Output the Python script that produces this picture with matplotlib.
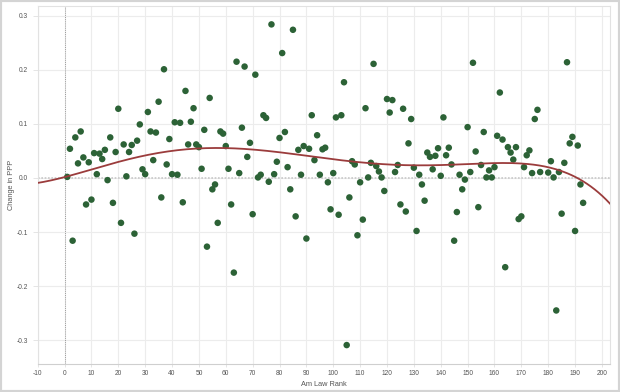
import numpy as np
import matplotlib
matplotlib.use("Agg")
import matplotlib.pyplot as plt
from matplotlib.patches import Rectangle

plt.rcParams['axes.unicode_minus'] = False
plt.rcParams['font.family'] = ['Liberation Sans', 'DejaVu Sans']

ranks = [1, 2, 3, 4, 5, 6, 7, 8, 9, 10, 11, 12, 13, 14, 15, 16, 17, 18, 19, 20,
         21, 22, 23, 24, 25, 26, 27, 28, 29, 30, 31, 32, 33, 34, 35, 36, 37, 38, 39, 40,
         41, 42, 43, 44, 45, 46, 47, 48, 49, 50, 51, 52, 53, 54, 55, 56, 57, 58, 59, 60,
         61, 62, 63, 64, 65, 66, 67, 68, 69, 70, 71, 72, 73, 74, 75, 76, 77, 78, 79, 80,
         81, 82, 83, 84, 85, 86, 87, 88, 89, 90, 91, 92, 93, 94, 95, 96, 97, 98, 99, 100,
         101, 102, 103, 104, 105, 106, 107, 108, 109, 110, 111, 112, 113, 114, 115, 116, 117, 118, 119, 120,
         121, 122, 123, 124, 125, 126, 127, 128, 129, 130, 131, 132, 133, 134, 135, 136, 137, 138, 139, 140,
         141, 142, 143, 144, 145, 146, 147, 148, 149, 150, 151, 152, 153, 154, 155, 156, 157, 158, 159, 160,
         161, 162, 163, 164, 165, 166, 167, 168, 169, 170, 171, 172, 173, 174, 175, 176, 177,
         180, 181, 182, 183, 184, 185, 186, 187, 188, 189, 190, 191, 192, 193]

change_ppp = [0.002, 0.054, -0.116, 0.075, 0.027, 0.086, 0.038, -0.049, 0.029, -0.040,
              0.046, 0.007, 0.045, 0.035, 0.052, -0.004, 0.075, -0.046, 0.048, 0.128,
              -0.083, 0.062, 0.003, 0.048, 0.061, -0.103, 0.069, 0.099, 0.016, 0.007,
              0.122, 0.086, 0.033, 0.084, 0.141, -0.036, 0.201, 0.025, 0.072, 0.007,
              0.103, 0.006, 0.102, -0.045, 0.161, 0.062, 0.104, 0.129, 0.062, 0.057,
              0.017, 0.089, -0.127, 0.148, -0.021, -0.012, -0.083, 0.086, 0.082, 0.059,
              0.017, -0.049, -0.175, 0.215, 0.009, 0.093, 0.206, 0.039, 0.065, -0.067,
              0.191, 0.001, 0.006, 0.116, 0.111, -0.007, 0.284, 0.007, 0.030, 0.074,
              0.231, 0.085, 0.020, -0.021, 0.274, -0.071, 0.052, 0.006, 0.059, -0.112,
              0.054, 0.116, 0.033, 0.079, 0.006, 0.053, 0.056, -0.008, -0.058, 0.009,
              0.112, -0.068, 0.116, 0.177, -0.309, -0.036, 0.031, 0.025, -0.106, -0.008,
              -0.077, 0.129, 0.001, 0.028, 0.211, 0.022, 0.012, 0.001, -0.024, 0.146,
              0.121, 0.144, 0.011, 0.024, -0.049, 0.128, -0.062, 0.064, 0.109, 0.019,
              -0.098, 0.006, -0.012, -0.042, 0.047, 0.039, 0.016, 0.041, 0.055, 0.004,
              0.112, 0.042, 0.056, 0.025, -0.116, -0.063, 0.006, -0.021, -0.003, 0.094,
              0.011, 0.213, 0.049, -0.054, 0.024, 0.085, 0.001, 0.014, 0.001, 0.020,
              0.078, 0.158, 0.071, -0.165, 0.057, 0.047, 0.034, 0.057, -0.076, -0.071,
              0.020, 0.042, 0.051, 0.009, 0.109, 0.126, 0.011,
              0.010, 0.031, 0.001, -0.245, 0.011, -0.066, 0.028, 0.214, 0.064, 0.076,
              -0.098, 0.060, -0.012, -0.046]

# trend line
trend_x = [-10, 0, 20, 50, 68, 80, 99, 120, 145, 160, 172, 184.5, 192, 203]
trend_y = [-0.009, 0.002, 0.028, 0.057, 0.054, 0.046, 0.034, 0.025, 0.027, 0.027, 0.025, 0.014, -0.004, -0.047]

x_ticks = list(range(-10, 201, 10))
y_ticks = [-0.3, -0.2, -0.1, 0.0, 0.1, 0.2, 0.3]

fig = plt.figure(figsize=(6.2, 3.92), dpi=100)
fig.patch.set_facecolor('white')
ax = fig.add_axes([37.7 / 620, 1 - 364 / 392, (610 - 37.7) / 620, (364 - 6) / 392])

ax.set_xlim(-10, 203)
ax.set_ylim(-0.344, 0.318)
ax.set_xticks(x_ticks)
ax.set_yticks(y_ticks)
ax.set_yticklabels([f"{v:.1f}" for v in y_ticks])
ax.grid(True, color='#ececec', linewidth=0.8)
ax.set_axisbelow(True)

ax.axvline(0, color='#9a9a9a', linestyle=(0, (1, 1.2)), linewidth=0.7, zorder=1)
ax.axhline(0, color='#c8c8c8', linestyle=(0, (1, 1)), linewidth=1.2, zorder=1)

ax.scatter(ranks, change_ppp, s=22, color='#2c6236', edgecolors='none', zorder=3)

coef = np.polyfit(trend_x, trend_y, 5)
xs = np.linspace(-10, 203, 300)
ax.plot(xs, np.polyval(coef, xs), color='#9b3c3c', linewidth=1.3, zorder=4)

for s in ax.spines.values():
    s.set_color('#e2e2e2')
    s.set_linewidth(0.8)
ax.spines['bottom'].set_color('#cfcfcf')

ax.tick_params(axis='both', labelsize=4.8, labelcolor='#555555', color='#e0e0e0', width=0.6)
ax.tick_params(axis='x', length=2, pad=2.5)
ax.tick_params(axis='y', length=3.3, pad=3.6)

ax.set_ylabel('Change in PPP', fontsize=5.3, color='#555555', labelpad=1.0)
ax.set_xlabel('Am Law Rank', fontsize=5.3, color='#555555', labelpad=2.5)

fig.patches.append(Rectangle((0, 0), 1, 1, transform=fig.transFigure, fill=False,
                             edgecolor='#d4d4d4', linewidth=3))

fig.savefig('out.png', dpi=100)
